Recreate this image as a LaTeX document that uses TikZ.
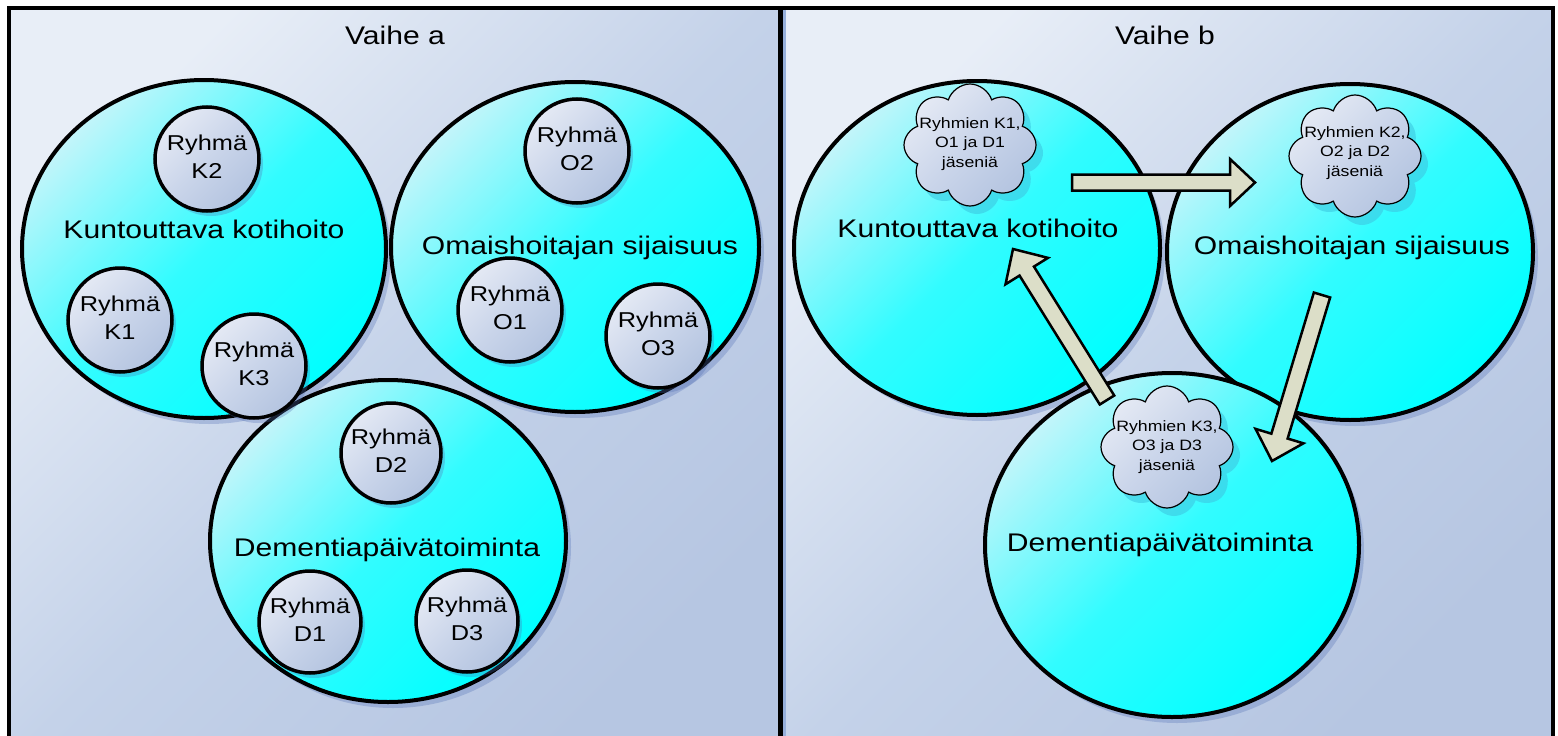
\documentclass[tikz,border=0pt]{standalone}
\usepackage{fontspec}
\setmainfont{Liberation Sans}
\usetikzlibrary{shapes.geometric,shapes.symbols,shadows,calc}
\newcommand\wl[1]{\scalebox{1.18}[1]{\begin{tabular}{@{}c@{}}#1\end{tabular}}}
\definecolor{bgL}{RGB}{232,238,247}
\definecolor{bgM}{RGB}{196,210,233}
\definecolor{bgR}{RGB}{182,198,226}
\definecolor{cyL}{RGB}{195,245,250}
\definecolor{cyM}{RGB}{50,252,255}
\definecolor{cyR}{RGB}{0,255,255}
\definecolor{grL}{RGB}{228,233,244}
\definecolor{grM}{RGB}{202,213,234}
\definecolor{grR}{RGB}{180,196,224}
\definecolor{arrfill}{RGB}{220,222,200}
\definecolor{shd}{RGB}{80,110,180}
\definecolor{cshd}{RGB}{60,200,225}
\definecolor{edgeblue}{RGB}{150,175,218}
\newcommand\blockarrow[5]{%
  \coordinate (hb) at ($(#2)!#5!(#1)$);
  \draw[arrowbody]
    ($(#1)!#3!90:(#2)$) -- ($(hb)!#3!90:(#2)$) -- ($(hb)!#4!90:(#2)$) -- (#2)
    -- ($(hb)!#4!-90:(#2)$) -- ($(hb)!#3!-90:(#2)$) -- ($(#1)!#3!-90:(#2)$) -- cycle;}
\begin{document}
\begin{tikzpicture}[x=1pt,y=-1pt,
  panelfill/.style={left color=bgL, right color=bgR, middle color=bgM, shading angle=45},
  bigell/.style={ellipse, draw=black, line width=4pt, inner sep=0pt,
    left color=cyL, right color=cyR, middle color=cyM, shading angle=45,
    drop shadow={shadow xshift=5pt, shadow yshift=-6pt, fill=shd, opacity=0.3}},
  grp/.style={circle, draw=black, line width=3.5pt, inner sep=0pt, minimum size=104pt,
    left color=grL, right color=grR, middle color=grM, shading angle=45,
    font=\fontsize{21.5}{28}\selectfont,
    drop shadow={shadow xshift=4pt, shadow yshift=-5pt, fill=shd, opacity=0.3}},
  biglab/.style={inner sep=0pt, font=\fontsize{25.5}{30}\selectfont},
  cloudsh/.style={cloud, cloud puffs=8, cloud puff arc=145, aspect=1.05, draw=black,
    line width=1.2pt, minimum width=132pt, minimum height=122pt, inner sep=0pt,
    left color=grL, right color=grR, middle color=grM, shading angle=45,
    drop shadow={shadow xshift=7pt, shadow yshift=-8pt, fill=cshd, opacity=0.6}},
  cloudtxt/.style={inner sep=0pt, font=\fontsize{15}{19.5}\selectfont},
  arrowbody/.style={draw=black, line width=2.5pt, fill=arrfill, line join=miter}]
\useasboundingbox (0,0) rectangle (1558,736);
\fill[white] (0,0) rectangle (1558,736);
% panels
\shade[panelfill] (9,8) rectangle (781,750);
\shade[panelfill] (785,8) rectangle (1553,750);
\draw[edgeblue, line width=3pt] (784.5,8) -- (784.5,750);
\draw[black, line width=4pt] (9,750) -- (9,8) -- (1553,8) -- (1553,750);
\draw[black, line width=4.5pt] (780.5,8) -- (780.5,750);
\node[biglab] (va) at (395,38) {\wl{Vaihe a}};
\node[biglab] (vb) at (1165,38) {\wl{Vaihe b}};
% ---- Vaihe a ----
\node[bigell, minimum width=364pt, minimum height=338pt] (ka) at (204,249) {};
\node[bigell, minimum width=368pt, minimum height=330pt] (oa) at (575,247) {};
\node[bigell, minimum width=356pt, minimum height=322pt] (da) at (388,541) {};
\node[biglab] (kaT) at (204,232) {\wl{Kuntouttava kotihoito}};
\node[biglab] (oaT) at (580,248) {\wl{Omaishoitajan sijaisuus}};
\node[biglab] (daT) at (387,550) {\wl{Dementiapäivätoiminta}};
\node[grp] (k2) at (207,159) {\wl{Ryhmä\\K2}};
\node[grp] (k1) at (120,320) {\wl{Ryhmä\\K1}};
\node[grp] (k3) at (254,366) {\wl{Ryhmä\\K3}};
\node[grp] (o2) at (577,151) {\wl{Ryhmä\\O2}};
\node[grp] (o1) at (510,310) {\wl{Ryhmä\\O1}};
\node[grp] (o3) at (658,336) {\wl{Ryhmä\\O3}};
\node[grp, minimum size=100pt] (d2) at (391,453) {\wl{Ryhmä\\D2}};
\node[grp, minimum size=102pt] (d1) at (310,622) {\wl{Ryhmä\\D1}};
\node[grp, minimum size=102pt] (d3) at (467,621) {\wl{Ryhmä\\D3}};
% ---- Vaihe b ----
\node[bigell, minimum width=366pt, minimum height=334pt] (kb) at (977,248) {};
\node[bigell, minimum width=366pt, minimum height=336pt] (ob) at (1350,252) {};
\node[bigell, minimum width=374pt, minimum height=344pt] (db) at (1172,545) {};
\node[biglab] (kbT) at (978,231) {\wl{Kuntouttava kotihoito}};
\node[biglab] (obT) at (1352,248) {\wl{Omaishoitajan sijaisuus}};
\node[biglab] (dbT) at (1160,545) {\wl{Dementiapäivätoiminta}};
\node[cloudsh] (c1) at (970,145) {};
\node[cloudtxt] (c1t) at (970,144) {\wl{Ryhmien K1,\\O1 ja D1\\jäseniä}};
\node[cloudsh] (c2) at (1355,156) {};
\node[cloudtxt] (c2t) at (1355,153) {\wl{Ryhmien K2,\\O2 ja D2\\jäseniä}};
\node[cloudsh] (c3) at (1167,447) {};
\node[cloudtxt] (c3t) at (1167,447) {\wl{Ryhmien K3,\\O3 ja D3\\jäseniä}};
% arrows
\coordinate (a1t) at (1072,182.5);
\coordinate (a1h) at (1255,182.5);
\coordinate (a2t) at (1322,295);
\coordinate (a2h) at (1272,461);
\coordinate (a3t) at (1107,400);
\coordinate (a3h) at (1013,249);
\blockarrow{a1t}{a1h}{8pt}{23.5pt}{25pt}
\blockarrow{a2t}{a2h}{8.5pt}{25pt}{26pt}
\blockarrow{a3t}{a3h}{8.5pt}{25pt}{26pt}
\end{tikzpicture}
\end{document}
